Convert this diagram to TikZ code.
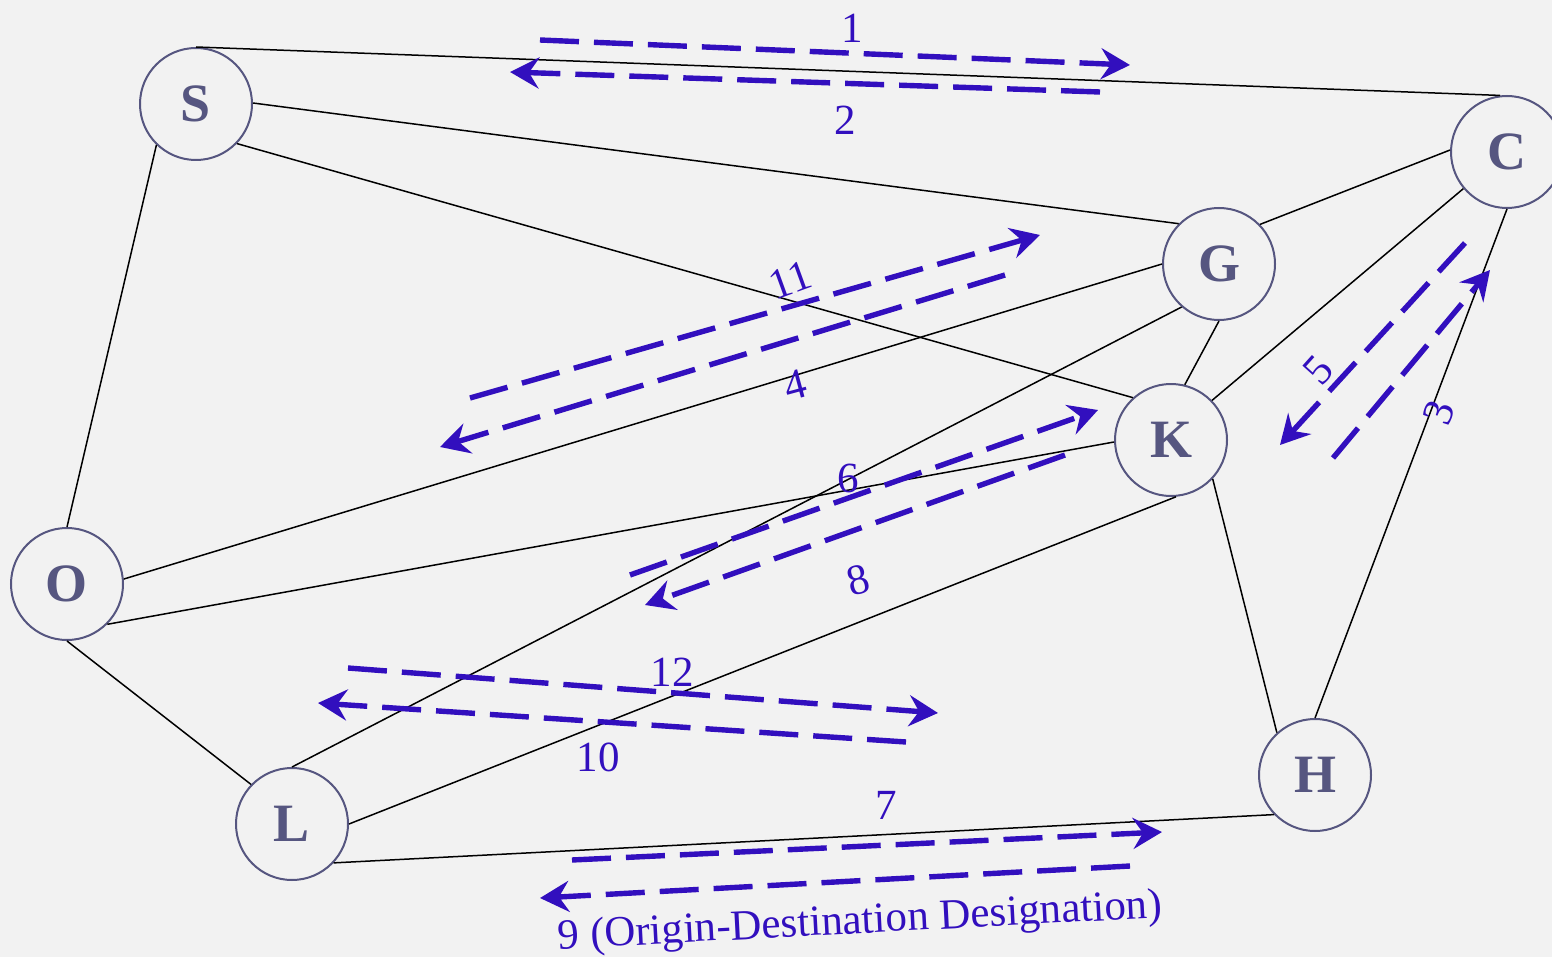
\documentclass[tikz,border=0pt]{standalone}
\usepackage{fontspec}
\setmainfont{Liberation Serif}
\usetikzlibrary{arrows.meta}
\definecolor{bgcol}{RGB}{242,242,242}
\definecolor{nodecol}{RGB}{86,86,128}
\definecolor{arrcol}{RGB}{50,15,190}
\tikzset{
  city/.style={circle, draw=nodecol, line width=1pt, fill=bgcol, minimum size=56pt, inner sep=0pt,
    text=nodecol, font=\fontsize{27}{27}\selectfont\bfseries},
  road/.style={draw=black, line width=0.75pt},
  odarrow/.style={draw=arrcol, line width=2.7pt, dash pattern=on 19.5pt off 7.5pt,
    -{Stealth[length=14.5pt,width=15.5pt,inset=5pt]}},
  odlabel/.style={text=arrcol, font=\fontsize{21.5}{21.5}\selectfont, inner sep=0pt}
}
\begin{document}
\begin{tikzpicture}[x=0.5pt,y=-0.5pt]
\fill[bgcol] (0,0) rectangle (1552,957);
\useasboundingbox (0,0) rectangle (1552,957);

% cities
\node[city] (S) at (196,104) {S};
\node[city] (C) at (1507,152) {C};
\node[city] (G) at (1219,264) {G};
\node[city] (K) at (1171,440) {K};
\node[city] (O) at (67,584) {O};
\node[city] (H) at (1315,775) {H};
\node[city] (L) at (292,824) {L};

% roads
\draw[road] (S.90) -- (C.97);
\draw[road] (S.1) -- (G.135);
\draw[road] (S.-44) -- (K.132);
\draw[road] (S.226) -- (O.90);
\draw[road] (C.178) -- (G.44);
\draw[road] (C.220) -- (K.44);
\draw[road] (C.270) -- (H.90);
\draw[road] (G.180) -- (O.5);
\draw[road] (G.229) -- (L.90);
\draw[road] (G.270) -- (K.76);
\draw[road] (K.182) -- (O.-45);
\draw[road] (K.-85) -- (L.0);
\draw[road] (K.-43) -- (H.132);
\draw[road] (O.270) -- (L.136);
\draw[road] (L.-43) -- (H.224);

% OD arrow endpoints
\coordinate (a1s) at (540,40);   \coordinate (a1e) at (1130,65);
\coordinate (a2s) at (1100,92);  \coordinate (a2e) at (510,72);
\coordinate (a11s) at (470,398); \coordinate (a11e) at (1040,235);
\coordinate (a4s) at (1005,275); \coordinate (a4e) at (440,447);
\coordinate (a5s) at (1465,243); \coordinate (a5e) at (1280,445);
\coordinate (a3s) at (1333,458); \coordinate (a3e) at (1490,270);
\coordinate (a6s) at (630,575);  \coordinate (a6e) at (1098,410);
\coordinate (a8s) at (1065,455); \coordinate (a8e) at (645,605);
\coordinate (a12s) at (348,668); \coordinate (a12e) at (938,713);
\coordinate (a10s) at (906,742); \coordinate (a10e) at (318,703);
\coordinate (a7s) at (572,860);  \coordinate (a7e) at (1162,832);
\coordinate (a9s) at (1130,866); \coordinate (a9e) at (540,898);

\draw[odarrow] (a1s) -- (a1e);
\draw[odarrow] (a2s) -- (a2e);
\draw[odarrow] (a11s) -- (a11e);
\draw[odarrow] (a4s) -- (a4e);
\draw[odarrow] (a5s) -- (a5e);
\draw[odarrow] (a3s) -- (a3e);
\draw[odarrow] (a6s) -- (a6e);
\draw[odarrow] (a8s) -- (a8e);
\draw[odarrow] (a12s) -- (a12e);
\draw[odarrow] (a10s) -- (a10e);
\draw[odarrow] (a7s) -- (a7e);
\draw[odarrow] (a9s) -- (a9e);

% labels
\node[odlabel] (l1) at (852,28) {1};
\node[odlabel] (l2) at (845,120) {2};
\node[odlabel, rotate=20] (l11) at (790,280) {11};
\node[odlabel, rotate=15] (l4) at (795,385) {4};
\node[odlabel, rotate=48] (l5) at (1318,370) {5};
\node[odlabel, rotate=70] (l3) at (1439,413) {3};
\node[odlabel] (l6) at (848,478) {6};
\node[odlabel, rotate=15] (l8) at (858,580) {8};
\node[odlabel] (l12) at (672,672) {12};
\node[odlabel] (l10) at (598,757) {10};
\node[odlabel] (l7) at (886,805) {7};
\node[odlabel, rotate=3] (l9) at (860,923) {9 (Origin-Destination Designation)};
\end{tikzpicture}
\end{document}
